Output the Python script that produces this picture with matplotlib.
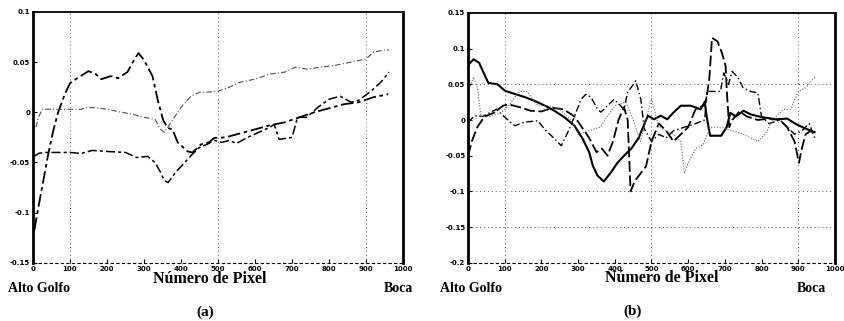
import numpy as np
import matplotlib
matplotlib.use("Agg")
import matplotlib.pyplot as plt

# ---- panel (a) ----
a1_x = [4, 12, 22, 40, 55, 68, 85, 100, 120, 150, 170, 185, 210, 230, 255, 270, 285, 300, 323, 337, 352, 364, 377, 391, 418, 431, 454, 475, 490, 520, 560, 600, 640, 680, 720, 760, 800, 840, 880, 920, 960]
a1_y = [-0.117, -0.1, -0.08, -0.044, -0.018, 0.0, 0.017, 0.029, 0.034, 0.041, 0.038, 0.033, 0.036, 0.034, 0.04, 0.05, 0.059, 0.052, 0.036, 0.0125, -0.008, -0.0156, -0.017, -0.03, -0.039, -0.04, -0.032, -0.03, -0.0255, -0.025, -0.021, -0.017, -0.013, -0.01, -0.005, 0.0, 0.004, 0.008, 0.01, 0.015, 0.018]

a2_x = [8, 15, 25, 60, 100, 130, 150, 180, 200, 240, 270, 300, 330, 345, 355, 373, 400, 427, 450, 470, 500, 530, 560, 600, 640, 680, 710, 740, 780, 820, 860, 900, 920, 950, 962]
a2_y = [-0.015, -0.005, 0.003, 0.003, 0.003, 0.003, 0.005, 0.004, 0.003, 0.0, -0.002, -0.005, -0.007, -0.017, -0.02, -0.01, 0.005, 0.016, 0.02, 0.02, 0.021, 0.025, 0.03, 0.033, 0.038, 0.04, 0.045, 0.043, 0.045, 0.047, 0.05, 0.053, 0.06, 0.062, 0.062]

a3_x = [3, 15, 30, 100, 130, 160, 200, 250, 280, 310, 330, 345, 355, 365, 385, 410, 430, 450, 470, 490, 510, 530, 550, 580, 610, 640, 652, 665, 700, 715, 740, 770, 800, 830, 860, 880, 910, 940, 962]
a3_y = [-0.044, -0.041, -0.04, -0.04, -0.041, -0.038, -0.039, -0.04, -0.045, -0.044, -0.05, -0.06, -0.068, -0.07, -0.06, -0.05, -0.042, -0.035, -0.032, -0.028, -0.03, -0.028, -0.031, -0.025, -0.02, -0.015, -0.012, -0.027, -0.025, -0.005, -0.005, 0.005, 0.013, 0.016, 0.01, 0.012, 0.02, 0.03, 0.04]

# ---- panel (b) ----
b1_x = [0, 15, 30, 45, 55, 80, 100, 130, 155, 180, 210, 235, 262, 290, 312, 330, 340, 353, 370, 390, 407, 425, 445, 465, 490, 507, 525, 543, 561, 580, 607, 634, 645, 652, 660, 690, 705, 715, 730, 751, 770, 800, 841, 870, 895, 920, 945]
b1_y = [0.077, 0.085, 0.08, 0.063, 0.052, 0.05, 0.041, 0.036, 0.032, 0.027, 0.02, 0.013, 0.004, -0.008, -0.026, -0.045, -0.064, -0.078, -0.086, -0.073, -0.06, -0.05, -0.04, -0.025, 0.006, 0.001, 0.006, 0.001, 0.011, 0.02, 0.02, 0.015, 0.025, 0.0, -0.022, -0.022, -0.01, 0.01, 0.005, 0.013, 0.008, 0.004, 0.001, 0.002, -0.006, -0.012, -0.017]

b2_x = [0, 10, 25, 45, 70, 95, 110, 140, 170, 200, 230, 260, 290, 310, 330, 350, 365, 380, 395, 410, 425, 435, 443, 455, 470, 485, 500, 520, 540, 560, 580, 600, 620, 640, 650, 658, 665, 680, 692, 702, 706, 712, 720, 740, 760, 790, 820, 850, 870, 890, 902, 910, 920, 935, 945]
b2_y = [-0.05, -0.03, -0.01, 0.005, 0.01, 0.02, 0.022, 0.018, 0.013, 0.012, 0.017, 0.015, 0.005, -0.01, -0.025, -0.045, -0.04, -0.05, -0.03, 0.0, 0.018, 0.0, -0.1, -0.085, -0.075, -0.065, -0.03, -0.005, -0.015, -0.03, -0.02, -0.01, 0.015, 0.02, 0.03, 0.06, 0.115, 0.11, 0.094, 0.076, 0.035, -0.01, 0.0, 0.012, 0.005, 0.0, 0.002, 0.0, -0.01, -0.03, -0.06, -0.04, -0.02, -0.015, -0.02]

b3_x = [0, 18, 40, 77, 100, 127, 154, 190, 208, 235, 254, 272, 290, 308, 321, 335, 353, 362, 380, 398, 412, 425, 435, 448, 457, 465, 471, 480, 500, 520, 540, 560, 590, 620, 645, 651, 670, 688, 697, 710, 720, 735, 750, 770, 790, 800, 820, 850, 870, 890, 910, 930, 945]
b3_y = [-0.003, 0.006, 0.005, 0.015, 0.004, -0.008, -0.003, -0.001, -0.0125, -0.026, -0.036, -0.017, 0.005, 0.029, 0.036, 0.032, 0.015, 0.011, 0.02, 0.029, 0.022, 0.015, 0.039, 0.048, 0.055, 0.04, 0.029, -0.012, -0.03, -0.02, -0.025, -0.015, -0.01, -0.005, 0.0, 0.04, 0.04, 0.04, 0.066, 0.05, 0.068, 0.06, 0.045, 0.04, 0.038, 0.005, -0.005, 0.0, -0.01, -0.02, -0.015, -0.005, -0.025]

b4_x = [0, 15, 25, 35, 60, 90, 110, 140, 160, 190, 220, 250, 280, 300, 330, 360, 400, 430, 450, 470, 500, 520, 560, 580, 590, 600, 620, 640, 660, 690, 720, 750, 790, 810, 830, 860, 880, 900, 920, 945]
b4_y = [0.04, 0.06, 0.045, 0.005, 0.005, 0.01, 0.02, 0.04, 0.04, 0.02, 0.02, 0.015, 0.0, -0.02, -0.015, -0.01, 0.02, 0.025, 0.0, -0.03, 0.03, -0.01, -0.02, -0.03, -0.075, -0.06, -0.04, -0.035, -0.01, -0.01, -0.015, -0.02, -0.03, -0.02, 0.0, 0.015, 0.015, 0.04, 0.045, 0.06]

xticks = [0, 100, 200, 300, 400, 500, 600, 700, 800, 900, 1000]
a_yticks = [-0.15, -0.1, -0.05, 0, 0.05, 0.1]
b_yticks = [-0.2, -0.15, -0.1, -0.05, 0, 0.05, 0.1, 0.15]

fig = plt.figure(figsize=(8.45, 3.21), dpi=100)
serif = {'family': 'Liberation Serif', 'weight': 'bold'}


def style_axes(ax, ylim, yticks, vgrid, hgrid):
    ax.set_xlim(0, 1000)
    ax.set_ylim(*ylim)
    ax.set_xticks(xticks)
    ax.set_yticks(yticks)
    ax.set_xticklabels([str(t) for t in xticks])
    ax.set_yticklabels(['%g' % t for t in yticks])
    ax.tick_params(direction='in', length=3, width=0.8, labelsize=5, pad=2)
    for lab in ax.get_xticklabels() + ax.get_yticklabels():
        lab.set_fontweight('bold')
    for v in vgrid:
        ax.axvline(v, color='0.35', lw=0.7, ls=(0, (1, 3)))
    for h in hgrid:
        ax.axhline(h, color='0.35', lw=0.7, ls=(0, (1, 3)))
    ax.spines['left'].set_linewidth(2.0)
    ax.spines['right'].set_linewidth(2.0)
    ax.spines['top'].set_linewidth(1.3)
    ax.spines['bottom'].set_linewidth(0.8)
    ax.spines['bottom'].set_linestyle((0, (2, 3)))


# (a)
axa = fig.add_axes([0.039, 0.181, 0.438, 0.782])
axa.plot(a1_x, a1_y, color='black', lw=1.3, ls=(0, (7, 2, 2, 2)))
axa.plot(a2_x, a2_y, color='0.3', lw=0.8, ls=(0, (5, 2, 1, 2)))
axa.plot(a3_x, a3_y, color='black', lw=1.1, ls=(0, (6, 2, 2, 2)))
style_axes(axa, (-0.15, 0.1), a_yticks, [100, 500, 900], [])

# (b)
axb = fig.add_axes([0.554, 0.181, 0.434, 0.779])
axb.plot(b1_x, b1_y, color='black', lw=1.5, ls='-')
axb.plot(b2_x, b2_y, color='black', lw=1.3, ls=(0, (6, 2)))
axb.plot(b3_x, b3_y, color='black', lw=1.0, ls=(0, (5, 2, 1, 2)))
axb.plot(b4_x, b4_y, color='0.4', lw=0.8, ls=(0, (1, 1.5)))
style_axes(axb, (-0.2, 0.15), b_yticks, [100, 500, 900], [0.05, -0.1, -0.15])

# labels (a)
fig.text(210 / 845, 1 - 279 / 321, 'Número de Pixel', ha='center', va='center', fontsize=11.5, **serif)
fig.text(8 / 845, 1 - 289 / 321, 'Alto Golfo', ha='left', va='center', fontsize=10, **serif)
fig.text(398 / 845, 1 - 289 / 321, 'Boca', ha='center', va='center', fontsize=10, **serif)
fig.text(205 / 845, 1 - 312 / 321, '(a)', ha='center', va='center', fontsize=11, **serif)

# labels (b)
fig.text(662 / 845, 1 - 278 / 321, 'Número de Pixel', ha='center', va='center', fontsize=11.5, **serif)
fig.text(440 / 845, 1 - 289 / 321, 'Alto Golfo', ha='left', va='center', fontsize=10, **serif)
fig.text(811 / 845, 1 - 289 / 321, 'Boca', ha='center', va='center', fontsize=10, **serif)
fig.text(633 / 845, 1 - 311 / 321, '(b)', ha='center', va='center', fontsize=11, **serif)

fig.savefig('out.png', dpi=100)
